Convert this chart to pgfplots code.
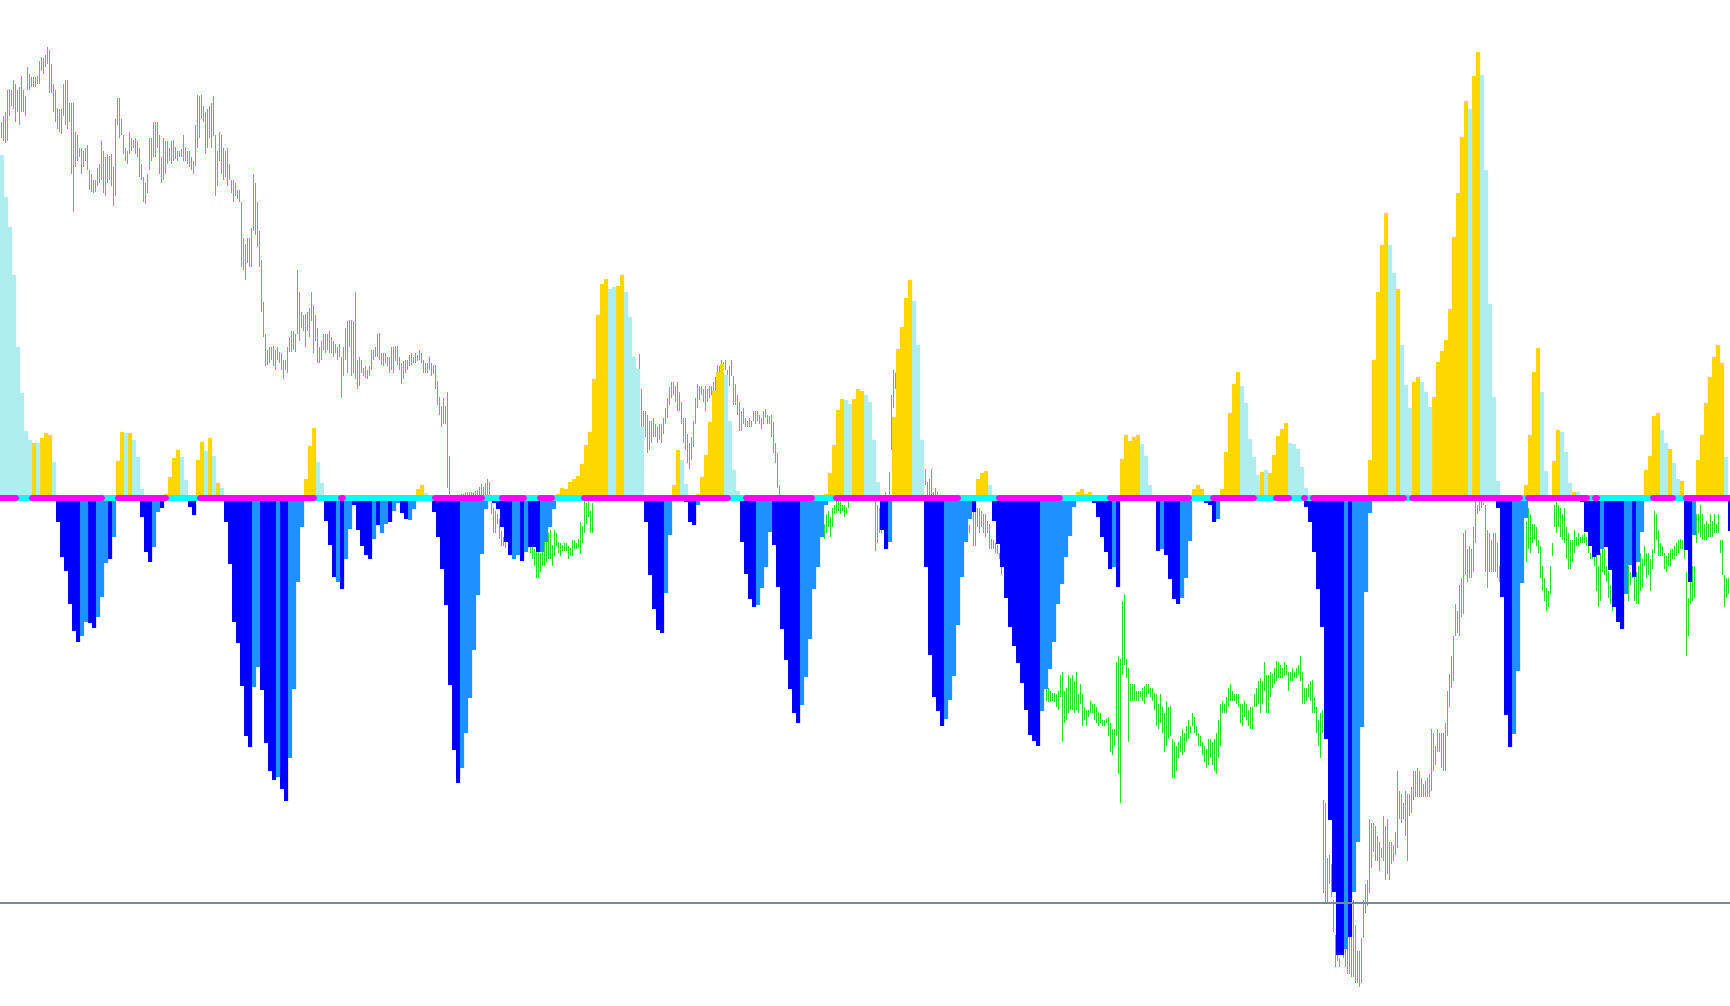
\documentclass[border=0pt]{standalone}
\usepackage{pgfplots}
\pgfplotsset{compat=1.18}
\usepackage{pgfplotstable}
\definecolor{gld}{RGB}{255,215,0}
\definecolor{pale}{RGB}{175,238,238}
\definecolor{blu}{RGB}{0,0,255}
\definecolor{dodg}{RGB}{30,144,255}
\definecolor{grn}{RGB}{40,225,40}
\definecolor{mag}{RGB}{255,0,255}
\definecolor{cyn}{RGB}{0,255,255}
\definecolor{slate}{RGB}{119,136,153}
% price bars: x, top and bottom as read (0.6427 converts to pixels)
\pgfplotstableread{
x t b
1 190 215
3 180 220
5 175 222
7 140 220
9 138 180
11 140 165
13 125 170
15 130 190
17 140 175
19 135 195
21 118 175
23 140 175
25 150 180
27 105 140
29 115 140
31 120 135
33 120 135
35 120 135
37 118 130
39 95 130
41 88 110
43 90 115
45 85 105
47 73 100
49 78 145
51 100 145
53 130 175
55 140 190
57 168 200
59 170 205
61 170 208
63 130 180
65 125 195
67 125 200
69 160 190
71 160 270
73 160 330
75 205 260
77 210 250
79 230 245
81 230 270
83 235 260
85 230 250
87 225 265
89 265 295
91 270 298
93 280 300
95 280 298
97 262 290
99 255 285
101 220 280
103 235 300
105 245 305
107 240 285
109 242 280
111 240 290
113 260 320
115 185 305
117 152 195
119 152 215
121 185 210
123 210 240
125 230 250
127 235 255
129 205 240
131 215 235
133 218 230
135 215 240
137 220 245
139 230 275
141 255 280
143 275 315
145 285 318
147 270 300
149 215 265
151 215 250
153 190 245
155 190 245
157 190 230
159 210 270
161 245 285
163 215 280
165 220 270
167 220 255
169 230 250
171 220 255
173 218 250
175 228 248
177 235 250
179 235 245
181 232 245
183 210 250
185 228 250
187 235 255
189 235 260
191 245 265
193 250 270
195 195 258
197 148 230
199 150 215
201 148 185
203 165 190
205 175 240
207 170 230
209 165 215
211 160 230
213 150 212
215 210 305
217 235 290
219 205 250
221 210 270
223 230 280
225 235 275
227 230 290
229 255 280
231 280 300
233 280 315
235 285 305
237 295 310
239 295 315
241 315 415
243 370 420
245 380 435
247 370 410
249 370 415
251 355 415
253 270 360
255 285 365
257 315 385
259 360 415
261 405 485
263 470 525
265 520 570
267 545 568
269 540 565
271 540 560
273 538 570
275 545 575
277 540 560
279 548 565
281 550 575
283 560 590
285 560 575
287 540 580
289 525 548
291 515 548
293 515 545
295 520 548
297 420 520
299 455 530
301 485 510
303 490 515
305 488 540
307 485 515
309 480 525
311 455 500
313 475 550
315 490 530
317 510 565
319 540 565
321 530 560
323 520 545
325 520 550
327 520 545
329 515 550
331 525 550
333 530 555
335 535 550
337 540 560
339 535 555
341 555 620
343 540 585
345 510 560
347 500 580
349 498 540
351 498 585
353 500 580
355 455 590
357 560 605
359 555 600
361 560 580
363 572 585
365 570 588
367 575 590
369 570 585
371 545 575
373 545 560
375 540 555
377 520 555
379 518 560
381 550 568
383 550 570
385 550 565
387 555 570
389 555 580
391 540 575
393 540 580
395 538 562
397 538 568
399 555 575
401 565 598
403 562 590
405 560 580
407 560 575
409 552 570
411 550 568
413 555 565
415 550 565
417 552 562
419 545 560
421 550 565
423 560 580
425 565 580
427 565 580
429 555 575
431 565 585
433 568 582
435 568 605
437 593 630
439 618 645
441 632 665
443 620 660
445 632 660
447 610 760
449 710 775
461 768 775
463 768 775
465 767 775
467 766 775
469 765 775
471 766 775
473 766 775
475 764 775
477 762 775
479 758 775
481 753 772
483 758 772
485 752 772
487 745 772
489 750 772
491 783 800
493 790 830
495 795 830
497 800 815
499 808 838
501 826 850
503 835 850
505 840 852
530 830 860
532 840 870
534 855 880
536 850 900
538 858 900
540 860 890
542 845 880
544 840 880
546 835 875
548 830 870
550 825 870
552 848 880
554 825 865
556 830 850
558 843 860
560 845 865
562 848 858
564 845 858
566 845 858
568 850 870
570 852 865
572 840 865
574 840 855
576 845 855
578 838 852
580 812 862
582 818 845
584 780 830
586 782 815
588 780 805
590 795 830
592 782 830
639 551 607
641 605 665
643 640 690
645 640 680
647 645 705
649 655 700
651 655 690
653 650 680
655 660 680
657 665 690
659 660 685
661 660 690
663 650 675
665 635 660
667 620 650
669 602 630
671 595 620
673 595 615
675 600 625
677 595 640
679 610 640
681 625 660
683 650 690
685 650 700
687 675 720
689 690 730
691 680 715
693 655 695
695 620 660
697 598 635
699 600 622
701 600 615
703 605 625
705 600 640
707 605 625
709 600 620
711 600 615
713 595 612
715 586 617
717 568 620
719 570 615
721 560 600
723 563 590
725 560 575
727 575 610
729 570 600
731 560 585
733 585 630
735 598 630
737 615 645
739 625 670
741 640 670
743 635 660
745 650 665
747 655 665
749 650 665
751 655 665
753 640 655
755 640 660
757 640 655
759 645 660
761 650 668
763 640 660
765 637 650
767 645 660
769 648 660
771 645 680
773 657 705
775 690 720
777 705 760
779 755 775
824 815 838
826 800 830
828 795 820
830 805 835
832 790 820
834 785 800
836 775 798
838 780 795
840 780 800
842 785 795
844 785 805
846 790 800
848 780 790
875 780 858
877 785 845
879 790 830
881 812 830
885 765 780
887 770 778
889 735 775
891 615 700
893 575 635
895 580 605
923 718 745
925 730 755
927 750 772
929 745 772
931 730 772
933 765 775
935 760 775
937 765 775
969 817 830
971 780 805
973 790 850
975 783 850
977 790 820
979 790 830
981 795 820
983 800 830
985 800 835
987 810 830
989 815 855
991 838 855
993 840 855
995 845 860
997 848 862
999 860 870
1001 880 895
1046 1070 1090
1048 1070 1092
1050 1075 1092
1052 1078 1090
1054 1078 1092
1056 1080 1100
1058 1075 1105
1060 1050 1085
1062 1045 1155
1064 1075 1125
1066 1070 1120
1068 1050 1110
1070 1055 1105
1072 1050 1105
1074 1060 1110
1076 1045 1105
1078 1080 1110
1080 1065 1095
1082 1080 1130
1084 1100 1120
1086 1105 1130
1088 1105 1115
1090 1090 1110
1092 1095 1110
1094 1095 1120
1096 1100 1125
1098 1108 1130
1100 1110 1125
1102 1120 1130
1104 1120 1130
1106 1118 1125
1108 1115 1145
1110 1125 1170
1112 1135 1175
1114 1135 1160
1116 1030 1145
1118 1020 1205
1120 1025 1250
1122 935 1050
1124 925 1035
1126 1025 1055
1128 1040 1155
1130 1065 1090
1132 1065 1090
1134 1065 1090
1136 1075 1090
1138 1075 1090
1140 1075 1085
1142 1070 1090
1144 1068 1095
1146 1065 1085
1148 1065 1080
1150 1070 1085
1152 1070 1090
1154 1078 1105
1156 1080 1130
1158 1095 1135
1160 1080 1125
1162 1100 1140
1164 1110 1170
1166 1090 1160
1168 1100 1150
1170 1098 1145
1172 1150 1210
1174 1155 1210
1176 1160 1200
1178 1155 1180
1180 1145 1170
1182 1135 1175
1184 1140 1170
1186 1130 1155
1188 1120 1150
1190 1130 1140
1192 1110 1130
1194 1115 1140
1196 1130 1145
1198 1140 1160
1200 1145 1160
1202 1155 1175
1204 1160 1185
1206 1165 1195
1208 1150 1190
1210 1150 1180
1212 1155 1190
1214 1150 1200
1216 1140 1205
1218 1120 1180
1220 1095 1160
1222 1090 1110
1224 1095 1110
1226 1085 1110
1228 1070 1100
1230 1065 1090
1232 1075 1090
1234 1080 1090
1236 1080 1095
1238 1080 1100
1240 1095 1125
1242 1095 1130
1244 1090 1115
1246 1095 1120
1248 1105 1130
1250 1100 1135
1252 1100 1135
1254 1080 1100
1256 1070 1100
1258 1060 1095
1260 1055 1110
1262 1060 1095
1264 1030 1075
1266 1050 1110
1268 1050 1110
1270 1045 1085
1272 1048 1070
1274 1040 1065
1276 1028 1060
1278 1030 1055
1280 1035 1055
1282 1040 1055
1284 1030 1052
1286 1035 1050
1288 1045 1075
1290 1045 1060
1292 1040 1060
1294 1045 1055
1296 1040 1055
1298 1035 1050
1300 1020 1060
1302 1045 1095
1304 1070 1095
1306 1070 1090
1308 1065 1085
1310 1060 1090
1312 1058 1110
1314 1085 1110
1316 1100 1140
1318 1120 1160
1320 1110 1180
1322 1105 1140
1323 1245 1390
1325 1250 1405
1327 1335 1405
1329 1330 1375
1331 1345 1395
1333 1400 1450
1335 1455 1505
1337 1470 1495
1339 1490 1505
1341 1450 1485
1343 1450 1490
1345 1445 1505
1347 1470 1515
1349 1420 1515
1351 1390 1520
1353 1400 1520
1355 1440 1530
1357 1480 1530
1359 1480 1535
1361 1460 1530
1363 1400 1460
1365 1375 1420
1367 1370 1410
1369 1275 1390
1371 1280 1350
1373 1280 1325
1375 1285 1340
1377 1300 1340
1379 1310 1355
1381 1320 1335
1383 1270 1340
1385 1285 1370
1387 1275 1360
1389 1310 1370
1391 1310 1345
1393 1315 1340
1395 1295 1330
1397 1200 1320
1399 1230 1275
1401 1235 1280
1403 1250 1275
1405 1230 1300
1407 1235 1340
1409 1235 1270
1411 1225 1265
1413 1200 1245
1415 1200 1240
1417 1195 1240
1419 1200 1240
1421 1210 1240
1423 1220 1240
1425 1215 1240
1427 1210 1240
1429 1205 1240
1431 1135 1230
1433 1140 1200
1435 1160 1190
1437 1135 1170
1439 1140 1170
1441 1140 1195
1443 1140 1200
1445 1125 1200
1447 1075 1145
1449 1048 1100
1451 1020 1070
1453 990 1060
1455 940 990
1457 950 985
1459 910 990
1461 900 960
1463 830 955
1465 825 895
1467 855 905
1469 850 900
1471 855 900
1473 820 890
1475 780 845
1477 785 800
1479 780 795
1481 780 790
1483 782 785
1485 785 890
1487 825 915
1489 830 890
1491 840 890
1493 830 890
1495 830 890
1497 845 900
1499 880 905
1526 810 875
1528 790 855
1530 800 860
1532 815 845
1534 815 840
1536 820 850
1538 840 860
1540 850 900
1542 880 920
1544 900 935
1546 915 950
1548 920 945
1550 880 925
1552 845 865
1554 785 820
1556 780 830
1558 785 820
1560 790 835
1562 800 840
1564 790 845
1566 820 870
1568 830 885
1570 840 885
1572 840 875
1574 825 860
1576 835 850
1578 830 850
1580 835 845
1582 832 845
1584 830 845
1586 835 850
1588 840 860
1590 860 870
1592 860 870
1594 855 880
1596 860 920
1598 880 945
1600 860 935
1602 855 890
1604 855 895
1606 880 905
1608 888 930
1610 910 940
1612 930 950
1628 880 935
1630 890 910
1632 880 900
1634 860 935
1636 890 940
1638 880 940
1640 860 920
1642 870 915
1644 850 880
1646 860 900
1648 860 895
1650 870 920
1652 855 885
1654 795 860
1656 800 840
1658 825 865
1660 845 865
1662 850 865
1664 860 885
1666 865 890
1668 860 880
1670 855 880
1672 855 870
1674 850 870
1676 845 865
1678 840 860
1680 838 855
1682 840 855
1684 835 870
1686 890 1020
1688 930 990
1690 885 940
1692 880 935
1694 880 930
1696 800 845
1698 800 830
1700 785 835
1702 800 840
1704 815 840
1706 810 840
1708 815 835
1710 800 835
1712 810 835
1714 800 830
1716 815 830
1718 800 830
1720 840 860
1722 840 895
1724 895 945
1726 900 930
1728 900 925
}\greendata
\pgfplotstableread{
x v
34 54
42 59
46 64
50 62
118 36
122 65
130 64
166 3
170 20
174 39
178 47
198 37
202 55
210 59
218 14
306 18
310 51
314 69
418 8
422 12
558 3
562 9
566 8
570 15
574 18
578 21
582 33
586 52
590 65
594 118
598 182
602 213
606 218
618 211
622 222
674 12
678 47
698 3
702 20
706 42
710 75
714 106
718 125
722 133
826 3
830 24
834 52
838 87
842 98
854 98
858 108
862 106
894 80
898 148
902 170
906 199
910 217
978 18
982 24
986 26
1078 5
1082 8
1086 3
1090 5
1122 38
1126 62
1130 56
1134 60
1138 62
1194 8
1198 12
1202 8
1222 8
1226 45
1230 84
1234 113
1238 125
1262 25
1270 24
1274 42
1278 61
1282 68
1286 74
1370 37
1374 137
1378 205
1382 252
1386 284
1398 208
1414 115
1418 120
1434 100
1438 135
1442 146
1446 157
1450 188
1454 260
1458 304
1462 360
1466 396
1474 421
1478 445
1526 12
1530 62
1534 125
1538 149
1554 36
1558 67
1574 5
1646 27
1650 41
1654 81
1658 84
1670 48
1682 16
1698 37
1702 62
1706 94
1710 120
1714 140
1718 152
1722 134
}\golddata
\pgfplotstableread{
x v
2 342
6 300
10 270
14 222
18 150
22 104
26 66
30 57
38 54
54 35
126 64
134 57
138 40
142 8
182 40
186 17
206 46
214 41
222 9
318 35
322 14
426 4
610 208
614 210
626 205
630 180
634 140
638 128
642 70
682 37
686 13
726 122
730 76
734 27
738 6
846 97
850 93
866 102
870 95
874 57
878 15
914 196
918 152
922 57
990 12
1142 53
1146 41
1150 12
1242 111
1246 94
1250 58
1254 40
1258 22
1266 27
1290 54
1294 53
1298 48
1302 30
1306 9
1390 252
1394 224
1402 152
1406 112
1410 89
1422 115
1426 105
1430 90
1470 388
1482 422
1486 327
1490 193
1494 100
1498 16
1542 105
1546 26
1562 65
1566 45
1570 14
1578 5
1662 67
1666 54
1674 34
1678 18
1726 40
}\paledata
\pgfplotstableread{
x v
58 -25
62 -60
66 -74
70 -107
74 -134
78 -145
90 -126
94 -131
110 -62
142 -20
146 -55
150 -65
162 -11
190 -10
194 -18
226 -25
230 -67
234 -125
238 -146
242 -189
246 -239
250 -250
262 -193
266 -246
270 -274
274 -283
282 -292
286 -304
326 -24
330 -48
334 -80
342 -92
354 -8
358 -33
362 -49
366 -58
370 -62
378 -28
390 -25
402 -16
406 -22
434 -15
438 -40
442 -72
446 -108
450 -188
454 -253
458 -286
494 -6
498 -12
502 -30
506 -45
510 -58
522 -64
530 -50
534 -50
538 -55
646 -25
650 -78
654 -112
658 -133
662 -136
686 -5
690 -25
694 -28
742 -45
746 -77
750 -102
754 -110
774 -48
778 -90
782 -132
786 -163
790 -192
794 -216
798 -226
882 -33
886 -52
926 -70
930 -158
934 -200
938 -214
942 -229
974 -15
994 -24
998 -47
1002 -70
1006 -101
1010 -130
1014 -149
1018 -166
1022 -186
1026 -213
1030 -238
1034 -244
1038 -249
1094 -6
1098 -20
1102 -40
1106 -55
1110 -72
1118 -90
1158 -54
1166 -58
1170 -82
1174 -102
1178 -107
1206 -6
1210 -8
1214 -25
1306 -10
1310 -25
1314 -55
1318 -92
1322 -130
1326 -242
1330 -323
1334 -395
1338 -458
1342 -458
1350 -440
1498 -11
1502 -100
1506 -218
1510 -250
1582 -5
1586 -35
1590 -49
1594 -60
1598 -58
1606 -50
1610 -73
1614 -110
1618 -125
1622 -132
1634 -80
1686 -53
1690 -85
1730 -34
}\bluedata
\pgfplotstableread{
x v
82 -139
86 -125
98 -120
102 -100
106 -66
114 -40
154 -50
158 -15
254 -190
258 -170
278 -280
290 -261
294 -192
298 -85
302 -30
338 -85
346 -62
350 -32
374 -42
382 -36
386 -27
394 -14
398 -6
410 -23
414 -12
462 -271
466 -236
470 -201
474 -153
478 -98
482 -57
486 -12
514 -62
518 -58
526 -55
542 -55
546 -45
550 -30
554 -12
666 -96
670 -38
698 -8
758 -108
762 -91
766 -70
770 -35
802 -208
806 -180
810 -142
814 -92
818 -70
822 -40
826 -8
890 -45
946 -222
950 -203
954 -179
958 -128
962 -80
966 -45
970 -22
1042 -214
1046 -192
1050 -172
1054 -145
1058 -107
1062 -87
1066 -60
1070 -39
1074 -10
1114 -70
1162 -52
1182 -101
1186 -81
1190 -44
1218 -22
1346 -452
1354 -395
1358 -345
1362 -230
1366 -95
1370 -16
1514 -237
1518 -174
1522 -86
1526 -21
1602 -52
1626 -97
1630 -68
1638 -65
1642 -35
1694 -38
}\dodgdata
\begin{document}
\begin{tikzpicture}
\begin{axis}[scale only axis, width=173mm, height=100.5mm,
  xmin=0, xmax=1730, ymin=-508, ymax=497, hide axis, clip=true]
\addplot[draw=none, mark=none, forget plot,
  error bars/.cd, y dir=plus, y explicit, error mark=none,
  error bar style={draw=grn, line width=0.09mm}]
  table[x=x, y expr={497-0.6427*\thisrow{b}},
        y error plus expr={0.6427*(\thisrow{b}-\thisrow{t})}] {\greendata};
\addplot[ybar, bar width=4, bar shift=0pt, fill=gld, draw=none] table[x=x,y=v] {\golddata};
\addplot[ybar, bar width=4, bar shift=0pt, fill=pale, draw=none] table[x=x,y=v] {\paledata};
\addplot[ybar, bar width=4, bar shift=0pt, fill=blu, draw=none] table[x=x,y=v] {\bluedata};
\addplot[ybar, bar width=4, bar shift=0pt, fill=dodg, draw=none] table[x=x,y=v] {\dodgdata};
\addplot[cyn, line width=1.7pt, mark=none] coordinates {(0,-1) (1730,-1)};
\addplot[mag, line width=1.7pt, line cap=round, mark=none, unbounded coords=jump] coordinates {
(0,-1) (16,-1) (nan,nan) (32,-1) (102,-1) (nan,nan) (118,-1) (166,-1) (nan,nan)
(200,-1) (314,-1) (nan,nan) (341,-1) (343,-1) (nan,nan) (435,-1) (482,-1) (nan,nan)
(502,-1) (524,-1) (nan,nan) (540,-1) (552,-1) (nan,nan) (584,-1) (728,-1) (nan,nan)
(746,-1) (812,-1) (nan,nan) (836,-1) (958,-1) (nan,nan) (999,-1) (1060,-1) (nan,nan)
(1110,-1) (1189,-1) (nan,nan) (1213,-1) (1254,-1) (nan,nan) (1276,-1) (1289,-1) (nan,nan)
(1304,-1) (1305,-1) (nan,nan) (1313,-1) (1404,-1) (nan,nan) (1412,-1) (1520,-1) (nan,nan)
(1528,-1) (1587,-1) (nan,nan) (1595,-1) (1597,-1) (nan,nan) (1653,-1) (1673,-1) (nan,nan)
(1686,-1) (1730,-1)};
\addplot[slate, line width=0.12mm, mark=none] coordinates {(0,-406) (1730,-406)};
\end{axis}
\pgfresetboundingbox
\path (current axis.south west) rectangle (current axis.north east);
\end{tikzpicture}
\end{document}
